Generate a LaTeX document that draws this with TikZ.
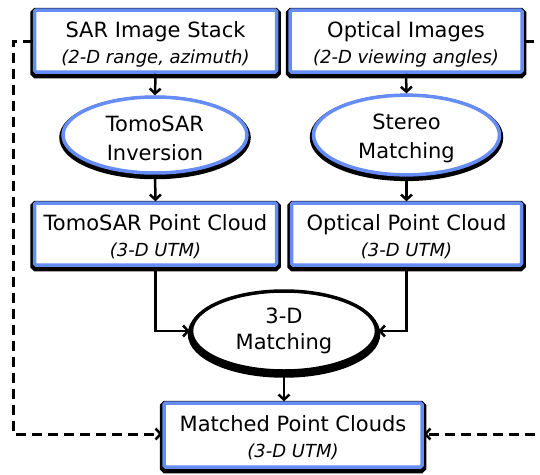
\documentclass[tikz,border=0pt]{standalone}
\usepackage{fontspec}
\setmainfont{DejaVu Sans}
\usetikzlibrary{shapes.geometric,arrows.meta}
\definecolor{boxblue}{RGB}{102,140,245}
\tikzset{
  box/.style={rectangle, rounded corners=1.5pt, draw=boxblue, line width=3.5pt, fill=white,
    inner sep=0pt, align=center, font=\fontsize{21}{26}\selectfont,
    preaction={draw=black, line width=8.5pt, transform canvas={yshift=-2.2pt}}},
  oval/.style={ellipse, draw=boxblue, line width=3.5pt, fill=white, inner sep=0pt,
    align=center, font=\fontsize{21}{29}\selectfont,
    preaction={draw=black, line width=7.5pt, transform canvas={yshift=-2.5pt}}},
  blackoval/.style={ellipse, draw=black, line width=3.5pt, fill=white, inner sep=0pt,
    align=center, font=\fontsize{21}{26}\selectfont,
    preaction={draw=black, line width=7.5pt, transform canvas={yshift=-3pt}}},
  conn/.style={line width=2.5pt, -{Straight Barb[length=5pt,width=11pt,line width=2.5pt]}},
  dconn/.style={line width=3pt, dash pattern=on 10pt off 6pt,
    -{Straight Barb[length=5pt,width=11pt,line width=2.5pt]}},
}
\newcommand{\subtxt}[1]{{\fontsize{18}{26}\selectfont\itshape #1}}
\newcommand{\lowr}{\rule{0pt}{22pt}}
\begin{document}
\begin{tikzpicture}[x=1pt,y=-1pt]
\useasboundingbox (0,0) rectangle (540,474);
\node[box, minimum width=242pt, minimum height=62pt] (sar) at (155.5,41)
  {\lowr SAR Image Stack\\\subtxt{(2-D range, azimuth)}};
\node[box, minimum width=232pt, minimum height=62pt] (opt) at (406,41)
  {\lowr Optical Images\\\subtxt{(2-D viewing angles)}};
\node[oval, minimum width=184pt, minimum height=76pt] (tomo) at (155,135)
  {\rule{0pt}{23pt}TomoSAR\\Inversion};
\node[oval, minimum width=186pt, minimum height=76pt] (stereo) at (406.5,135)
  {\rule{0pt}{23pt}Stereo\\Matching};
\node[box, minimum width=242pt, minimum height=62pt] (tpc) at (155.5,234)
  {\lowr TomoSAR Point Cloud\\\subtxt{(3-D UTM)}};
\node[box, minimum width=230pt, minimum height=62pt] (opc) at (406.5,234)
  {\lowr Optical Point Cloud\\\subtxt{(3-D UTM)}};
\node[blackoval, minimum width=185pt, minimum height=80pt] (m3) at (284,331)
  {3-D\\Matching};
\node[box, minimum width=258pt, minimum height=64pt] (mpc) at (293,435)
  {\lowr Matched Point Clouds\\\subtxt{(3-D UTM)}};
\coordinate (lc) at (13,434);
\coordinate (rc) at (541,434);
\draw[conn] (sar.south) -- (tomo.north);
\draw[conn] (opt.south) -- (stereo.north);
\draw[conn] (tomo.south) -- (tpc.north);
\draw[conn] (stereo.south) -- (opc.north);
\draw[conn] (tpc.south) |- (m3.west);
\draw[conn] (opc.south) |- (m3.east);
\draw[conn] (m3.south) -- (m3.south |- mpc.north);
\draw[dconn] (sar.west) -| (lc) -- (lc -| mpc.west);
\draw[dconn] (opt.east) -| (rc) -- (rc -| mpc.east);
\end{tikzpicture}
\end{document}
